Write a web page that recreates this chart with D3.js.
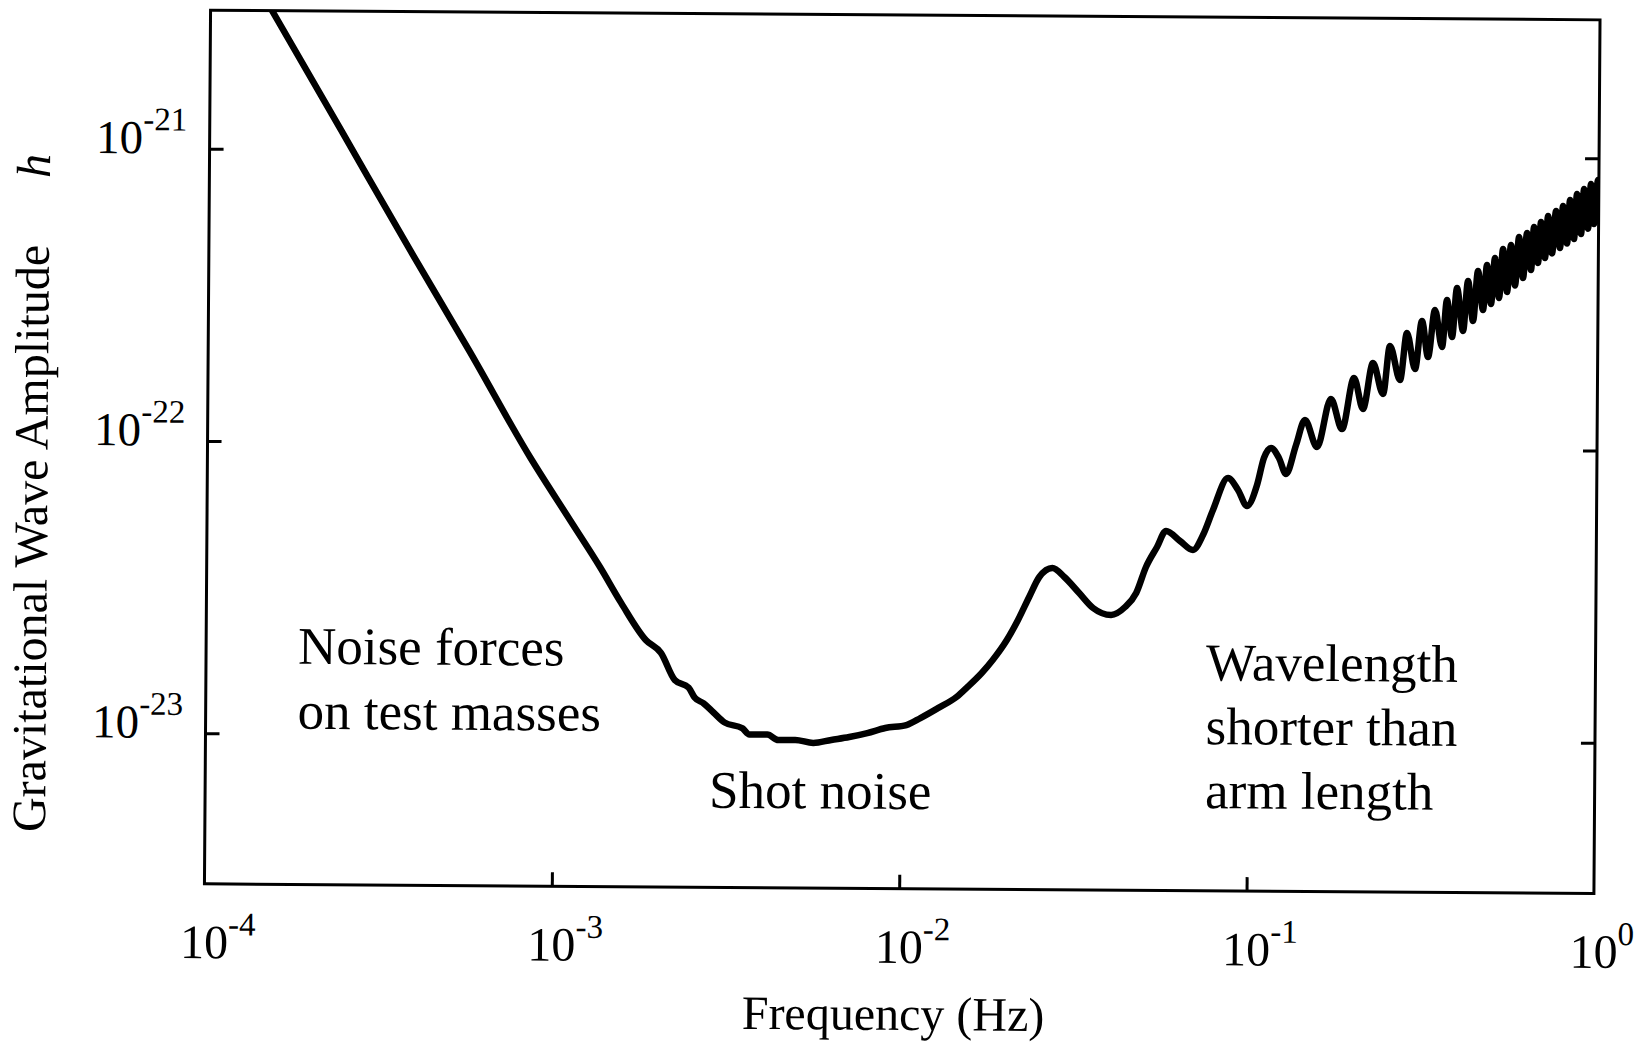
<!DOCTYPE html>
<html>
<head>
<meta charset="utf-8">
<script src="https://cdn.jsdelivr.net/npm/d3@7"></script>
<style>
html, body { margin: 0; padding: 0; background: #ffffff; }
svg { display: block; }
</style>
</head>
<body>
<svg id="chart" width="1651" height="1046"></svg>
<script>
// ---- data (frequency in Hz, strain amplitude h) ----
const frequency = [
  1.443e-4, 2.387e-4, 3.793e-4, 5.672e-4, 8.482e-4, 1.109e-3, 1.356e-3,
  1.564e-3, 1.846e-3, 2.039e-3, 2.237e-3, 2.454e-3, 2.554e-3, 2.712e-3, 2.897e-3, 3.115e-3,
  3.511e-3, 3.678e-3, 4.143e-3, 4.456e-3, 4.987e-3, 5.618e-3, 6.331e-3, 7.132e-3, 8.035e-3, 9.053e-3,
  1.041e-2, 1.142e-2, 1.286e-2, 1.449e-2, 1.559e-2, 1.711e-2, 1.839e-2, 2.018e-2, 2.171e-2, 2.335e-2,
  2.495e-2, 2.720e-2, 2.945e-2, 3.252e-2, 3.568e-2, 4.021e-2, 4.412e-2, 4.746e-2, 5.058e-2, 5.437e-2,
  5.766e-2, 6.331e-2, 6.902e-2, 7.370e-2, 7.865e-2, 8.676e-2, 9.277e-2, 9.853e-2,
  0.1052, 0.1100, 0.1152, 0.1215, 0.1274, 0.1360, 0.1441, 0.1563, 0.1710, 0.1843,
  0.1991, 0.2116, 0.2256, 0.2415, 0.2523, 0.2701, 0.2822, 0.2982, 0.3116, 0.3248,
  0.3395, 0.3563, 0.3674,
  0.3805, 0.3924, 0.4092, 0.4220, 0.4370, 0.4506, 0.4667, 0.4781, 0.4919, 0.5040,
  0.5186, 0.5314, 0.5468, 0.5602, 0.5763, 0.5905, 0.6075, 0.6226, 0.6404, 0.6518,
  0.6705, 0.6826, 0.7022, 0.7150, 0.7354, 0.7538, 0.7752, 0.7892, 0.8121, 0.8267,
  0.8503, 0.8654, 0.8906, 0.9066, 0.9326, 0.9490, 0.9700, 0.9943, 1.004
];
const amplitude = [
  3.236e-21, 1.167e-21, 4.551e-22, 2.044e-22, 8.967e-23, 5.470e-23, 3.783e-23,
  2.85e-23, 2.13e-23, 1.93e-23, 1.56e-23, 1.47e-23, 1.36e-23, 1.30e-23, 1.21e-23, 1.12e-23,
  1.07e-23, 1.02e-23, 1.02e-23, 9.78e-24, 9.79e-24, 9.57e-24, 9.81e-24, 1.005e-23, 1.038e-23, 1.081e-23,
  1.108e-23, 1.171e-23, 1.270e-23, 1.385e-23, 1.501e-23, 1.676e-23, 1.858e-23, 2.177e-23, 2.550e-23, 3.058e-23,
  3.582e-23, 3.848e-23, 3.587e-23, 3.165e-23, 2.815e-23, 2.667e-23, 2.842e-23, 3.175e-23, 3.899e-23, 4.568e-23,
  5.184e-23, 4.795e-23, 4.469e-23, 5.033e-23, 6.134e-23, 7.896e-23, 7.190e-23, 6.340e-23,
  7.485e-23, 9.265e-23, 1.003e-22, 9.273e-23, 8.18e-23, 1.028e-22, 1.253e-22, 1.013e-22, 1.481e-22, 1.168e-22,
  1.749e-22, 1.371e-22, 1.971e-22, 1.544e-22, 2.255e-22, 1.726e-22, 2.500e-22, 1.883e-22, 2.751e-22, 2.072e-22,
  3.002e-22, 2.243e-22, 3.250e-22,
  2.428e-22, 3.573e-22, 2.547e-22, 3.779e-22, 2.757e-22, 4.090e-22, 3.009e-22, 4.290e-22, 3.156e-22, 4.536e-22,
  3.311e-22, 4.871e-22, 3.472e-22, 5.029e-22, 3.656e-22, 5.360e-22, 3.880e-22, 5.534e-22, 4.134e-22, 5.804e-22,
  4.370e-22, 6.039e-22, 4.548e-22, 6.334e-22, 4.714e-22, 6.591e-22, 4.925e-22, 6.858e-22, 5.105e-22, 7.193e-22,
  5.291e-22, 7.545e-22, 5.506e-22, 7.849e-22, 5.743e-22, 8.168e-22, 5.961e-22, 8.433e-22, 6.1e-22
];
const xTickValues = [1e-4, 1e-3, 1e-2, 1e-1, 1];
const xTickExponents = ["-4", "-3", "-2", "-1", "0"];
const yTickValues = [1e-21, 1e-22, 1e-23];
const yTickExponents = ["-21", "-22", "-23"];
const xDomain = [1e-4, 1];
const yDomain = [3.05e-24, 2.978e-21];
const xTitle = "Frequency (Hz)";
const yTitle = "Gravitational Wave Amplitude";
const yTitleSymbol = "h";
const noteLeft = ["Noise forces", "on test masses"];
const noteMiddle = ["Shot noise"];
const noteRight = ["Wavelength", "shorter than", "arm length"];

// ---- layout ----
const W = 1651, H = 1046;
const plot = { left: 207.5, right: 1597, top: 15, bottom: 888.7 };
const serif = "'Liberation Serif', 'Times New Roman', Times, serif";

const svg = d3.select("#chart");
svg.append("rect").attr("width", W).attr("height", H).attr("fill", "#fff");

// the scanned original is very slightly rotated
const g = svg.append("g").attr("transform", "rotate(0.4, 900, 450)");

const x = d3.scaleLog().domain(xDomain).range([plot.left, plot.right]);
const y = d3.scaleLog().domain(yDomain).range([plot.bottom, plot.top]);

g.append("clipPath").attr("id", "plotClip")
  .append("rect")
  .attr("x", plot.left).attr("y", plot.top)
  .attr("width", plot.right - plot.left).attr("height", plot.bottom - plot.top);

// curve
const pts = frequency.map((f, i) => ({ f, h: amplitude[i] }));
const line = d3.line().x(d => x(d.f)).y(d => y(d.h)).curve(d3.curveMonotoneX);
g.append("path")
  .datum(pts)
  .attr("clip-path", "url(#plotClip)")
  .attr("d", line)
  .attr("fill", "none")
  .attr("stroke", "#000")
  .attr("stroke-width", 6.5)
  .attr("stroke-linejoin", "round")
  .attr("stroke-linecap", "round");

// frame
g.append("rect")
  .attr("x", plot.left).attr("y", plot.top)
  .attr("width", plot.right - plot.left).attr("height", plot.bottom - plot.top)
  .attr("fill", "none").attr("stroke", "#000").attr("stroke-width", 3);

// inward ticks
const innerX = xTickValues.slice(1, -1);
const axB = g.append("g").attr("transform", `translate(0,${plot.bottom})`)
  .call(d3.axisBottom(x).tickValues(innerX).tickSizeInner(-14).tickSizeOuter(0));
const axL = g.append("g").attr("transform", `translate(${plot.left},0)`)
  .call(d3.axisLeft(y).tickValues(yTickValues).tickSizeInner(-14).tickSizeOuter(0));
const axR = g.append("g").attr("transform", `translate(${plot.right},0)`)
  .call(d3.axisRight(y).tickValues(yTickValues).tickSizeInner(-14).tickSizeOuter(0));
[axB, axL, axR].forEach(a => {
  a.select(".domain").remove();
  a.selectAll(".tick text").remove();
  a.selectAll(".tick line").attr("stroke", "#000").attr("stroke-width", 3);
});

// x tick labels: 10 with superscript exponent
xTickValues.forEach((v, i) => {
  const t = g.append("text")
    .attr("x", x(v) - 24).attr("y", 963)
    .attr("font-family", serif).attr("fill", "#000");
  t.append("tspan").attr("font-size", 48).text("10");
  t.append("tspan").attr("font-size", 33).attr("dy", -23).text(xTickExponents[i]);
});

// y tick labels
yTickValues.forEach((v, i) => {
  const t = g.append("text")
    .attr("x", 94).attr("y", y(v) + 5)
    .attr("font-family", serif).attr("fill", "#000");
  t.append("tspan").attr("font-size", 47).text("10");
  t.append("tspan").attr("font-size", 33).attr("dy", -23).text(yTickExponents[i]);
});

// axis titles
g.append("text")
  .attr("x", 897).attr("y", 1030)
  .attr("text-anchor", "middle")
  .attr("font-family", serif).attr("font-size", 48).attr("fill", "#000")
  .text(xTitle);

g.append("text")
  .attr("transform", "translate(47.6,544.5) rotate(-90)")
  .attr("text-anchor", "middle")
  .attr("font-family", serif).attr("font-size", 48).attr("fill", "#000")
  .text(yTitle);

g.append("text")
  .attr("transform", "translate(48,172) rotate(-90)")
  .attr("text-anchor", "middle")
  .attr("font-family", serif).attr("font-style", "italic").attr("font-size", 48).attr("fill", "#000")
  .text(yTitleSymbol);

// annotations
function note(lines, x0, y0, step = 64) {
  lines.forEach((s, i) => {
    g.append("text")
      .attr("x", x0).attr("y", y0 + i * step)
      .attr("font-family", serif).attr("font-size", 53).attr("fill", "#000")
      .text(s);
  });
}
note(noteLeft, 299.5, 668, 65);
note(noteMiddle, 711.5, 809);
note(noteRight, 1207.6, 678, 64);
</script>
</body>
</html>
